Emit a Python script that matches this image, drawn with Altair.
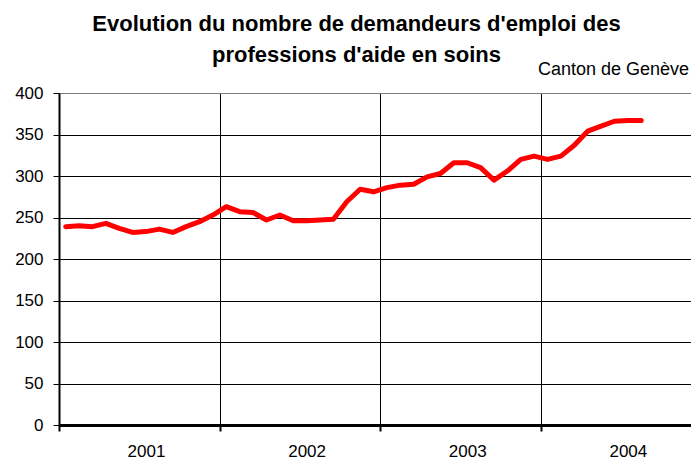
import altair as alt
import pandas as pd

years = [2001, 2002, 2003, 2004]
values_2001 = [239, 240, 239, 243, 237, 232, 233, 236, 232, 239, 245, 253]
values_2002 = [263, 257, 256, 247, 253, 246, 246, 247, 248, 269, 284, 281]
values_2003 = [286, 289, 290, 299, 303, 316, 316, 310, 295, 306, 320, 324]
values_2004 = [320, 324, 337, 354, 360, 366, 367, 367]

title_lines = ["Evolution du nombre de demandeurs d'emploi des", "professions d'aide en soins"]
subtitle = "Canton de Genève"
y_ticks = [0, 50, 100, 150, 200, 250, 300, 350, 400]

rows = []
for yi, (yr, vals) in enumerate(zip(years, [values_2001, values_2002, values_2003, values_2004])):
    for m, v in enumerate(vals):
        rows.append({"mois": f"{yr}-{m + 1:02d}", "t": yi * 12 + m + 0.5, "demandeurs": v})
df = pd.DataFrame(rows)

FONT = "Liberation Sans"

x_enc = alt.X(
    "t:Q",
    scale=alt.Scale(domain=[0, 47.22], nice=False, zero=False),
    axis=alt.Axis(
        title=None,
        values=[0, 12, 24, 36, 6.5, 18.5, 30.5, 42.5],
        labelExpr="datum.value % 12 == 0 ? '' : toString(2001 + floor(datum.value / 12))",
        labelFont=FONT, labelFontSize=17, labelColor="black",
        labelPadding=12, labelOverlap=False, labelFlush=False,
        tickSize=6, tickColor="black", tickWidth=2,
        tickOpacity={"condition": {"test": "datum.value % 12 == 0", "value": 1}, "value": 0},
        grid=True, gridColor="black", gridWidth=1,
        gridOpacity={"condition": {"test": "datum.value % 12 == 0", "value": 1}, "value": 0},
        domainColor="black", domainWidth=3,
    ),
)
y_enc = alt.Y(
    "demandeurs:Q",
    scale=alt.Scale(domain=[0, 400], nice=False),
    axis=alt.Axis(
        title=None, values=y_ticks,
        labelFont=FONT, labelFontSize=17, labelColor="black", labelPadding=10,
        tickSize=6, tickColor="black", tickWidth=1,
        grid=True, gridWidth=1,
        gridColor={"condition": {"test": "datum.value == 400", "value": "#808080"}, "value": "black"},
        domainColor="black", domainWidth=2,
    ),
)

line = alt.Chart(df).mark_line(color="#FF0000", strokeWidth=5, strokeJoin="round", strokeCap="round").encode(
    x=x_enc, y=y_enc
)

t1 = alt.Chart(pd.DataFrame({"txt": [title_lines[0]]})).mark_text(
    font=FONT, fontSize=22, fontWeight="bold", align="center", baseline="alphabetic", color="black"
).encode(text="txt:N", x=alt.value(297.5), y=alt.value(-62))
t2 = alt.Chart(pd.DataFrame({"txt": [title_lines[1]]})).mark_text(
    font=FONT, fontSize=22, fontWeight="bold", align="center", baseline="alphabetic", color="black"
).encode(text="txt:N", x=alt.value(297.5), y=alt.value(-31))
st = alt.Chart(pd.DataFrame({"txt": [subtitle]})).mark_text(
    font=FONT, fontSize=18, align="left", baseline="alphabetic", color="black"
).encode(text="txt:N", x=alt.value(479), y=alt.value(-18))

chart = alt.layer(line, t1, t2, st).properties(
    width=632, height=332,
    autosize=alt.AutoSizeParams(type="none"),
    padding={"left": 51, "top": 85, "right": 0, "bottom": 35},
).configure_view(fill="#C0C0C0", stroke="transparent").configure(background="white")

chart.save("out.html", embed_options={"renderer": "svg", "actions": False})
